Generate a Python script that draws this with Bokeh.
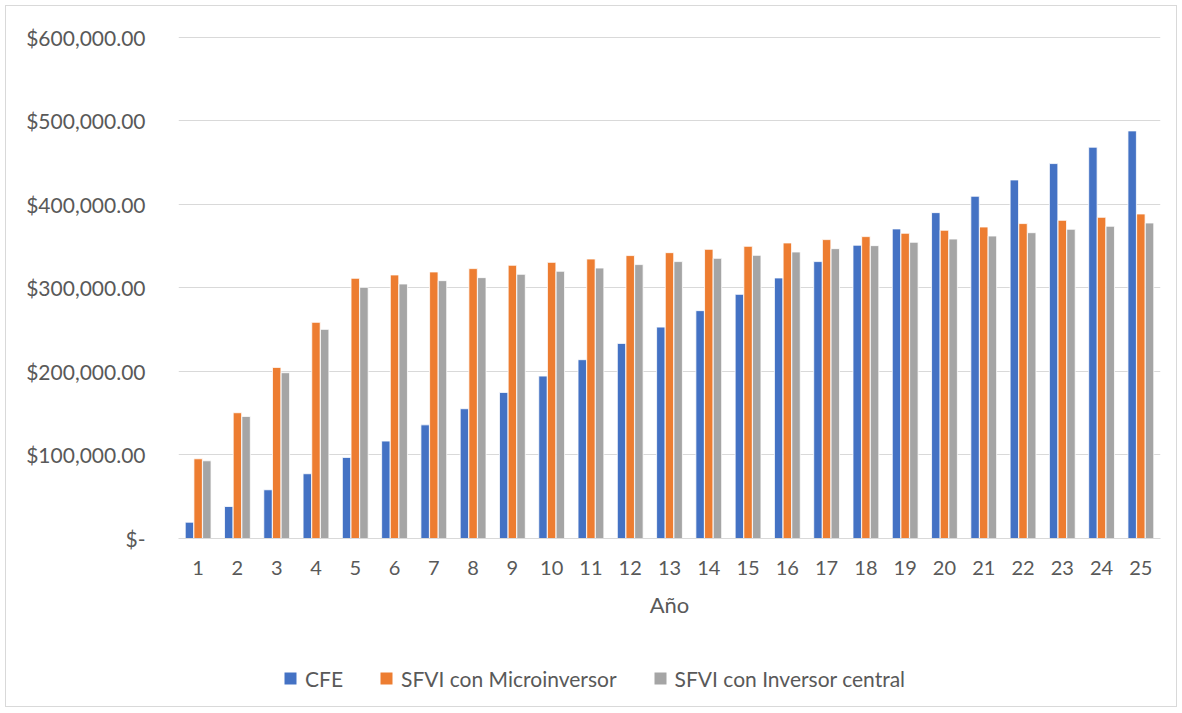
from bokeh.plotting import figure
from bokeh.layouts import column
from bokeh.models import FactorRange, Range1d, ColumnDataSource, FixedTicker, Legend, LegendItem
from bokeh.transform import dodge
from bokeh.embed import file_html
from bokeh.resources import INLINE

years = [str(i) for i in range(1, 26)]
cfe = [19500, 38300, 58300, 77500, 97000, 116600, 136000, 155300, 174800, 194400,
       214000, 233500, 253000, 272700, 292200, 311800, 331400, 351000, 370500, 390000,
       409600, 429100, 448700, 468300, 487800]
micro = [95400, 150500, 204800, 258700, 311400, 315400, 319000, 323000, 327000, 330500,
         334500, 338600, 342100, 346100, 349700, 353700, 357700, 361300, 365300, 368900,
         372800, 376900, 380800, 384400, 388400]
central = [93000, 146100, 198400, 250300, 300600, 304600, 308600, 312200, 316200, 319800,
           323700, 327800, 331400, 335300, 338900, 342900, 346900, 350500, 354500, 358400,
           362000, 366000, 370100, 373700, 377600]
series_names = ["CFE", "SFVI con Microinversor", "SFVI con Inversor central"]
y_ticks = [0, 100000, 200000, 300000, 400000, 500000, 600000]
y_labels = ["$-", "$100,000.00", "$200,000.00", "$300,000.00", "$400,000.00", "$500,000.00", "$600,000.00"]

FONT = "Lato"
TXT = "#595959"
colors = ["#4472C4", "#ED7D31", "#A5A5A5"]
cols = ["cfe", "micro", "central"]

src = ColumnDataSource(dict(year=years, cfe=cfe, micro=micro, central=central))

p = figure(x_range=FactorRange(*years), y_range=Range1d(0, 600800),
           width=1170, height=630, output_backend="svg", toolbar_location=None,
           min_border_left=172, min_border_right=16, min_border_top=30, min_border_bottom=98)
p.outline_line_color = None
p.background_fill_color = "white"
p.border_fill_color = "white"

offs = [-0.221, 0.0, 0.221]
for c, col, off in zip(colors, cols, offs):
    p.vbar(x=dodge("year", off, range=p.x_range), top=col, width=0.215, source=src,
           fill_color=c, line_color="white", line_width=0.8)

p.xgrid.grid_line_color = None
p.ygrid.grid_line_color = "#d9d9d9"
p.ygrid.grid_line_width = 1

p.yaxis.ticker = FixedTicker(ticks=y_ticks)
p.yaxis.major_label_overrides = {t: l for t, l in zip(y_ticks, y_labels)}
p.yaxis.axis_line_color = None
p.yaxis.major_tick_line_color = None
p.yaxis.minor_tick_line_color = None
p.yaxis.major_label_standoff = 27
p.yaxis.major_label_text_font = FONT
p.yaxis.major_label_text_font_size = "21px"
p.yaxis.major_label_text_color = TXT

p.xaxis.axis_line_color = "#d9d9d9"
p.xaxis.major_tick_line_color = None
p.xaxis.minor_tick_line_color = None
p.xaxis.major_label_standoff = 16
p.xaxis.major_label_text_font = FONT
p.xaxis.major_label_text_font_size = "20px"
p.xaxis.major_label_text_color = TXT
p.xaxis.axis_label = "Año"
p.xaxis.axis_label_text_font = FONT
p.xaxis.axis_label_text_font_size = "22px"
p.xaxis.axis_label_text_font_style = "normal"
p.xaxis.axis_label_text_color = TXT
p.xaxis.axis_label_standoff = 13

# legend strip below the chart (its renderers are hidden; only the legend shows)
q = figure(x_range=FactorRange(*years), width=1170, height=70, output_backend="svg",
           toolbar_location=None, x_axis_location=None, y_axis_location=None, min_border=0)
q.outline_line_color = None
q.background_fill_color = "white"
q.border_fill_color = "white"
q.xgrid.visible = False
q.ygrid.visible = False
leg_renderers = []
for c, col in zip(colors, cols):
    r = q.scatter(x="year", y=col, source=src, marker="square", size=10,
                  fill_color=c, line_color=None)
    r.visible = False
    leg_renderers.append(r)
legend = Legend(items=[LegendItem(label=n, renderers=[r]) for n, r in zip(series_names, leg_renderers)],
                orientation="horizontal", location=(97, 13))
legend.border_line_color = None
legend.background_fill_alpha = 0
legend.inactive_fill_alpha = 0
legend.padding = 0
legend.margin = 0
legend.spacing = 28
legend.glyph_width = 30
legend.glyph_height = 30
legend.label_standoff = 0
legend.label_text_font = FONT
legend.label_text_font_size = "21px"
legend.label_text_color = TXT
q.add_layout(legend, "center")

layout = column(p, q, spacing=0,
                styles={"border": "1px solid #d9d9d9", "margin": "5px 0 0 5px", "background": "white"})

open("out.html", "w").write(file_html(layout, INLINE))
